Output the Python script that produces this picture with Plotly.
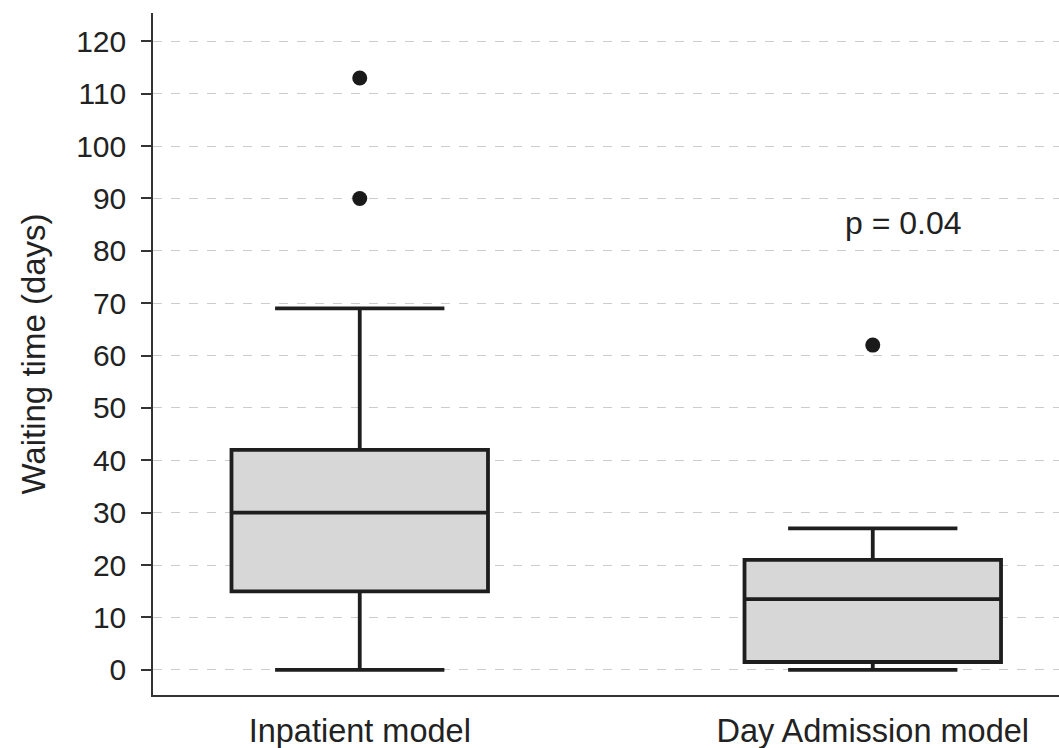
import plotly.graph_objects as go

categories = ["Inpatient model", "Day Admission model"]
q1 = [15, 1.5]
median = [30, 13.5]
q3 = [42, 21]
lower_fence = [0, 0]
upper_fence = [69, 27]
outlier_x = ["Inpatient model", "Inpatient model", "Day Admission model"]
outlier_y = [113, 90, 62]
y_ticks = list(range(0, 121, 10))

FONT = "Liberation Sans, Arial, sans-serif"
TXT = "#222222"

fig = go.Figure()
fig.add_trace(go.Box(
    x=categories,
    q1=q1, median=median, q3=q3,
    lowerfence=lower_fence, upperfence=upper_fence,
    width=0.5,
    whiskerwidth=0.66,
    fillcolor="#d7d7d7",
    line=dict(color="#1e1e1e", width=3.8),
    boxpoints=False,
    showlegend=False,
    hoverinfo="skip",
))
fig.add_trace(go.Scatter(
    x=outlier_x, y=outlier_y, mode="markers",
    marker=dict(color="#1a1a1a", size=15),
    showlegend=False, hoverinfo="skip",
))

fig.add_annotation(
    x=1.06, y=85.3, xref="x", yref="y",
    text="p = 0.04", showarrow=False,
    font=dict(family=FONT, size=32, color=TXT),
)

fig.update_layout(
    width=1059, height=748,
    margin=dict(l=153, r=0, t=13, b=53),
    paper_bgcolor="white", plot_bgcolor="white",
    font=dict(family=FONT, size=30, color=TXT),
)
fig.update_xaxes(
    type="category",
    categoryorder="array", categoryarray=categories,
    range=[-0.403, 1.363],
    showline=True, linecolor="#333333", linewidth=1.5,
    showgrid=False, zeroline=False,
    ticks="outside", ticklen=6, tickcolor="rgba(0,0,0,0)",
    tickfont=dict(family=FONT, size=32.5, color=TXT),
)
fig.update_yaxes(
    range=[-4.8, 125.4],
    tickvals=y_ticks,
    showline=True, linecolor="#333333", linewidth=1.5,
    showgrid=True, gridcolor="#cccccc", griddash="dash", gridwidth=1,
    zeroline=False,
    ticks="outside", ticklen=10, tickcolor="#333333", tickwidth=1.5,
    ticklabelstandoff=9,
    tickfont=dict(family=FONT, size=30, color=TXT),
    title=dict(text="Waiting time (days)", font=dict(family=FONT, size=33, color=TXT), standoff=21),
)

fig.write_html("out.html", config={"displayModeBar": False})
with open("out.html", "r", encoding="utf-8") as f:
    html = f.read()
html = html.replace("<head>", "<head><style>html,body{margin:0;padding:0;overflow:hidden;}</style>", 1)
with open("out.html", "w", encoding="utf-8") as f:
    f.write(html)
